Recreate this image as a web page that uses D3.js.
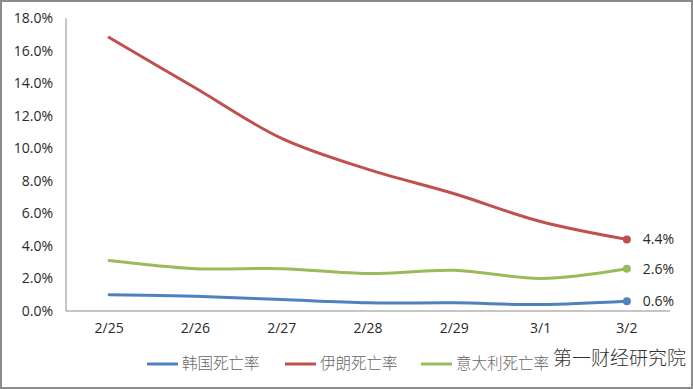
<!DOCTYPE html>
<html>
<head>
<meta charset="utf-8">
<script src="https://cdn.jsdelivr.net/npm/d3@7"></script>
<style>
  body { margin: 0; background: #fff; }
  svg text { font-family: "Open Sans", "Liberation Sans", sans-serif; }
</style>
</head>
<body>
<div id="chart"></div>
<script>
// data
var dates = ["2/25", "2/26", "2/27", "2/28", "2/29", "3/1", "3/2"];
var korea = [1.0, 0.9, 0.7, 0.5, 0.5, 0.4, 0.6];
var iran = [16.8, 13.7, 10.6, 8.7, 7.2, 5.5, 4.4];
var italy = [3.1, 2.6, 2.6, 2.3, 2.5, 2.0, 2.6];
var seriesNames = ["韩国死亡率", "伊朗死亡率", "意大利死亡率"];
var yTicks = [0, 2, 4, 6, 8, 10, 12, 14, 16, 18];

var series = [
  {name: seriesNames[0], values: korea, color: "#4F81BD"},
  {name: seriesNames[1], values: iran, color: "#C0504D"},
  {name: seriesNames[2], values: italy, color: "#9BBB59"}
];

var W = 693, H = 389;
var margin = {top: 18, right: 23, bottom: 78, left: 66},
    width = W - margin.left - margin.right,
    height = H - margin.top - margin.bottom;

var svg = d3.select("#chart").append("svg")
    .attr("width", W)
    .attr("height", H);

// outer frame
svg.append("rect")
    .attr("x", 1).attr("y", 1)
    .attr("width", W - 2).attr("height", H - 2)
    .attr("fill", "#fff")
    .attr("stroke", "#8c8c8c")
    .attr("stroke-width", 2);

var g = svg.append("g")
    .attr("transform", "translate(" + margin.left + "," + margin.top + ")");

var x = d3.scaleBand()
    .domain(dates)
    .range([0, width]);

var y = d3.scaleLinear()
    .domain([0, 18])
    .range([height, 0]);

// y tick labels
g.append("g")
    .call(d3.axisLeft(y).tickValues(yTicks).tickSize(0).tickPadding(13)
      .tickFormat(function(d) { return d.toFixed(1) + "%"; }))
    .call(function(a) { a.select(".domain").remove(); })
    .selectAll("text")
    .attr("font-size", 14)
    .attr("fill", "#2a2a2a")
    .style("font-family", "'Open Sans', 'Liberation Sans', sans-serif");

// x tick labels
g.append("g")
    .attr("transform", "translate(0," + height + ")")
    .call(d3.axisBottom(x).tickSize(0).tickPadding(12))
    .call(function(a) { a.select(".domain").remove(); })
    .selectAll("text")
    .attr("font-size", 14)
    .attr("fill", "#2a2a2a")
    .style("font-family", "'Open Sans', 'Liberation Sans', sans-serif");

// axis lines
g.append("line")
    .attr("x1", 0).attr("x2", 0)
    .attr("y1", 0).attr("y2", height)
    .attr("stroke", "#8c8c8c");
g.append("line")
    .attr("x1", 0).attr("x2", width)
    .attr("y1", height).attr("y2", height)
    .attr("stroke", "#8c8c8c");

var line = d3.line()
    .x(function(d, i) { return x(dates[i]) + x.bandwidth() / 2; })
    .y(function(d) { return y(d); })
    .curve(d3.curveCatmullRom.alpha(0.5));

series.forEach(function(s) {
  g.append("path")
      .datum(s.values)
      .attr("fill", "none")
      .attr("stroke", s.color)
      .attr("stroke-width", 3)
      .attr("stroke-linecap", "round")
      .attr("d", line);

  var last = s.values.length - 1;
  var cx = x(dates[last]) + x.bandwidth() / 2;
  g.append("circle")
      .attr("cx", cx)
      .attr("cy", y(s.values[last]))
      .attr("r", 4)
      .attr("fill", s.color);

  g.append("text")
      .attr("x", cx + 16)
      .attr("y", y(s.values[last]))
      .attr("dy", "0.35em")
      .attr("font-size", 14)
      .attr("fill", "#2a2a2a")
      .text(s.values[last].toFixed(1) + "%");
});

// legend
var legendX = [147, 285, 421];
var legend = svg.append("g").attr("transform", "translate(0,364)");
series.forEach(function(s, i) {
  legend.append("line")
      .attr("x1", legendX[i]).attr("x2", legendX[i] + 31)
      .attr("y1", 0).attr("y2", 0)
      .attr("stroke", s.color)
      .attr("stroke-width", 3);
  legend.append("text")
      .attr("x", legendX[i] + 35)
      .attr("y", 0)
      .attr("dy", "0.35em")
      .attr("font-size", 15.5)
      .attr("font-weight", 300)
      .attr("fill", "#666")
      .style("font-family", "'Noto Sans CJK SC', sans-serif")
      .text(s.name);
});

// watermark
svg.append("text")
    .attr("x", 553)
    .attr("y", 358)
    .attr("dy", "0.35em")
    .attr("font-size", 19)
    .attr("font-weight", 300)
    .attr("fill", "#333")
    .attr("stroke", "#fff")
    .attr("stroke-width", 3)
    .attr("paint-order", "stroke")
    .style("font-family", "'Noto Sans CJK SC', sans-serif")
    .text("第一财经研究院");
</script>
</body>
</html>
